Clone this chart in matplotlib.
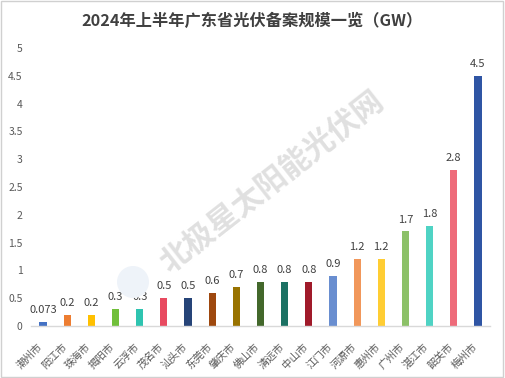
import matplotlib
matplotlib.use("Agg")
import matplotlib.pyplot as plt
from matplotlib.patches import Rectangle, Ellipse
from matplotlib.transforms import ScaledTranslation

plt.rcParams['font.family'] = ['Noto Sans CJK SC', 'DejaVu Sans']

cities = ['潮州市', '阳江市', '珠海市', '揭阳市', '云浮市', '茂名市', '汕头市', '东莞市',
          '肇庆市', '佛山市', '清远市', '中山市', '江门市', '河源市', '惠州市', '广州市',
          '湛江市', '韶关市', '梅州市']
values = [0.073, 0.2, 0.2, 0.3, 0.3, 0.5, 0.5, 0.6, 0.7, 0.8, 0.8, 0.8, 0.9, 1.2, 1.2,
          1.7, 1.8, 2.8, 4.5]
value_labels = ['0.073', '0.2', '0.2', '0.3', '0.3', '0.5', '0.5', '0.6', '0.7', '0.8',
                '0.8', '0.8', '0.9', '1.2', '1.2', '1.7', '1.8', '2.8', '4.5']
colors = ['#4472C4', '#ED7D31', '#FFC000', '#70BF3A', '#2EC4B0', '#E84A60', '#264478',
          '#9E480E', '#997300', '#43682B', '#1B7163', '#A01A2A', '#698ED0', '#F1975A',
          '#FFCD33', '#8CC168', '#4FD3C4', '#EE6B7A', '#2F55A4']
yticks = [0, 0.5, 1, 1.5, 2, 2.5, 3, 3.5, 4, 4.5, 5]
title = '2024年上半年广东省光伏备案规模一览（GW）'
watermark = '北极星太阳能光伏网'

fig = plt.figure(figsize=(5.05, 3.78), dpi=100)
fig.patches.append(Rectangle((0.002, 0.003), 0.995, 0.994, transform=fig.transFigure,
                             fill=False, edgecolor='#d0d0d0', linewidth=1.0))

# watermark (behind chart)
fig.patches.append(Ellipse((133/505, 1 - 282/378), 32/505, 32/378, transform=fig.transFigure,
                           facecolor='#eef3f9', edgecolor='none', zorder=0))
fig.text(272/505, 1 - 182/378, watermark, ha='center', va='center',
         fontsize=22, fontweight='bold', color='#e0e0e0', rotation=38, zorder=0)

ax = fig.add_axes([31/505, 52/378, 459/505, 278/378])
ax.patch.set_alpha(0)
x = list(range(len(cities)))
ax.bar(x, values, width=0.3, color=colors, zorder=2)
ax.set_xlim(-0.5, len(cities) - 0.5)
ax.set_ylim(0, 5)
ax.set_yticks(yticks)
ax.set_yticklabels([('%g' % t) for t in yticks], color='#595959', fontsize=7.5)
ax.tick_params(axis='y', length=0, pad=6)
ax.tick_params(axis='x', length=0, pad=11)
ax.set_xticks(x)
ax.set_xticklabels(cities, rotation=45, ha='right', va='top', rotation_mode='anchor',
                   color='#595959', fontsize=7.5)
off = ScaledTranslation(-6/100, 0, fig.dpi_scale_trans)
for lab in ax.get_xticklabels():
    lab.set_transform(lab.get_transform() + off)
for s in ['top', 'right', 'left']:
    ax.spines[s].set_visible(False)
ax.spines['bottom'].set_color('#d9d9d9')
ax.spines['bottom'].set_linewidth(1.0)

for xi, v, lab in zip(x, values, value_labels):
    ax.annotate(lab, (xi, v), xytext=(0, 5), textcoords='offset points',
                ha='center', va='bottom', fontsize=8, color='#404040')

fig.text(0.5, 1 - 21/378, title, ha='center', va='center', fontsize=11.7,
         fontweight='bold', color='#404040')

fig.savefig('out.png', dpi=100)
